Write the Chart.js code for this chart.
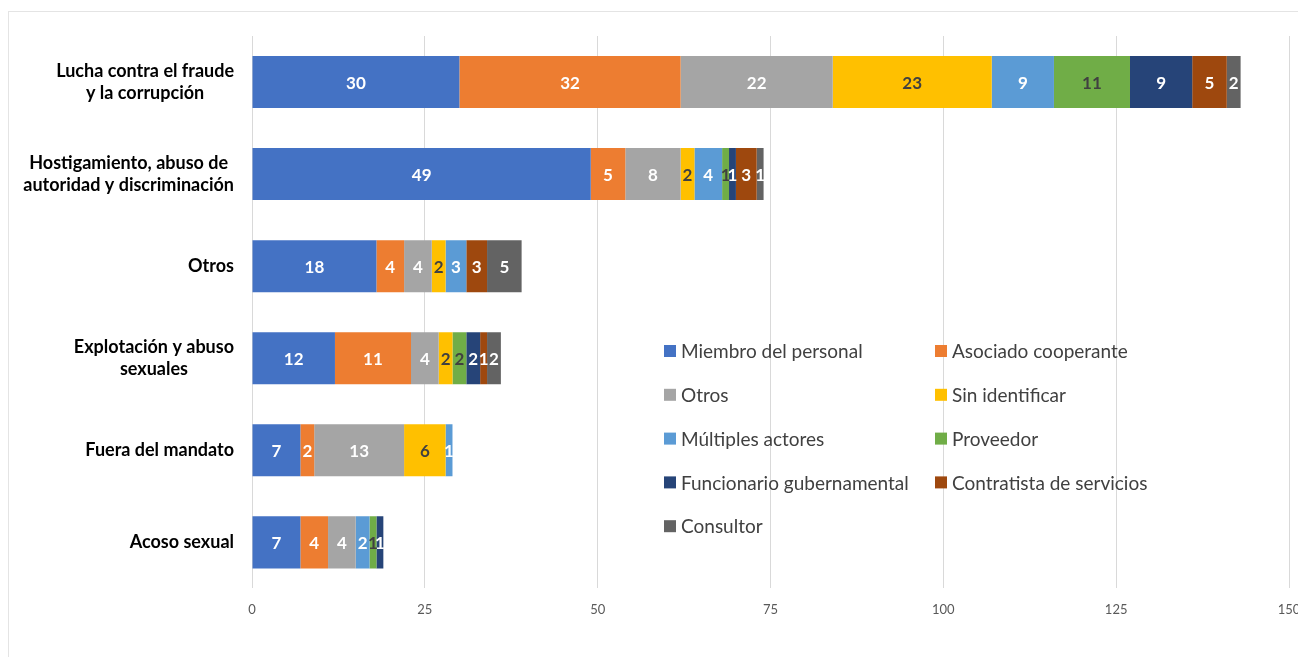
<!DOCTYPE html>
<html lang="es">
<head>
  <meta charset="UTF-8" />
  <title>Casos por categoría y tipo de sujeto</title>
  <script src="https://cdn.jsdelivr.net/npm/chart.js"></script>
  <style>
    html, body {
      margin: 0;
      padding: 0;
      background: #fff;
      overflow: hidden;
    }
    .frame {
      position: absolute;
      left: 8px;
      top: 11px;
      width: 1400px;
      height: 700px;
      border: 1px solid #e4e4e4;
    }
    .wrap {
      position: absolute;
      left: 0;
      top: 0;
      width: 1298px;
      height: 657px;
    }
  </style>
</head>
<body>
  <div class="frame"></div>
  <div class="wrap"><canvas id="chart"></canvas></div>

  <script>
    // categories (top to bottom), each label split into lines
    const categories = [
      ['Lucha contra el fraude', 'y la corrupción'],
      ['Hostigamiento, abuso de', 'autoridad y discriminación'],
      ['Otros'],
      ['Explotación y abuso', 'sexuales'],
      ['Fuera del mandato'],
      ['Acoso sexual']
    ];

    const seriesNames = [
      'Miembro del personal', 'Asociado cooperante', 'Otros', 'Sin identificar',
      'Múltiples actores', 'Proveedor', 'Funcionario gubernamental',
      'Contratista de servicios', 'Consultor'
    ];
    const seriesColors = [
      '#4472C4', '#ED7D31', '#A5A5A5', '#FFC000',
      '#5B9BD5', '#70AD47', '#264478', '#9E480E', '#636363'
    ];
    const darkLabelSeries = ['Sin identificar', 'Proveedor'];

    // values per series, in category order
    const miembro     = [30, 49, 18, 12, 7, 7];
    const asociado    = [32, 5, 4, 11, 2, 4];
    const otros       = [22, 8, 4, 4, 13, 4];
    const sinIdent    = [23, 2, 2, 2, 6, 0];
    const multiples   = [9, 4, 3, 0, 1, 2];
    const proveedor   = [11, 1, 0, 2, 0, 1];
    const funcionario = [9, 1, 0, 2, 0, 1];
    const contratista = [5, 3, 3, 1, 0, 0];
    const consultor   = [2, 1, 5, 2, 0, 0];
    const seriesValues = [miembro, asociado, otros, sinIdent, multiples,
      proveedor, funcionario, contratista, consultor];

    const xTicks = [0, 25, 50, 75, 100, 125, 150];

    const FONT = 'Lato, "Open Sans", sans-serif';

    // segment value labels
    const barLabels = {
      id: 'barLabels',
      afterDatasetsDraw(chart) {
        const ctx = chart.ctx;
        ctx.save();
        ctx.font = 'bold 17px ' + FONT;
        ctx.textAlign = 'center';
        ctx.textBaseline = 'middle';
        chart.data.datasets.forEach((ds, i) => {
          const meta = chart.getDatasetMeta(i);
          meta.data.forEach((bar, j) => {
            const v = ds.data[j];
            if (!v) return;
            ctx.fillStyle = darkLabelSeries.includes(ds.label) ? '#404040' : '#ffffff';
            ctx.fillText(String(v), (bar.x + bar.base) / 2, bar.y + 1);
          });
        });
        ctx.restore();
      }
    };

    // category labels: lines centred on each other, block right-aligned
    const catLabels = {
      id: 'catLabels',
      afterDraw(chart) {
        const ctx = chart.ctx;
        const yScale = chart.scales.y;
        const right = chart.chartArea.left - 18;
        const lineH = 22;
        ctx.save();
        ctx.font = 'bold 18px ' + FONT;
        ctx.fillStyle = '#000';
        ctx.textAlign = 'center';
        ctx.textBaseline = 'middle';
        categories.forEach((lines, i) => {
          const yc = yScale.getPixelForTick(i);
          const w = Math.max(...lines.map(l => ctx.measureText(l).width));
          const cx = right - w / 2;
          const y0 = yc - (lines.length - 1) * lineH / 2;
          lines.forEach((l, k) => ctx.fillText(l, cx, y0 + k * lineH));
        });
        ctx.restore();
      }
    };

    // legend placed inside the plot, two columns
    const innerLegend = {
      id: 'innerLegend',
      afterDraw(chart) {
        const ctx = chart.ctx;
        const colX = [664, 935];
        const top = 351;
        const rowH = 43.8;
        ctx.save();
        ctx.font = '19px ' + FONT;
        ctx.textBaseline = 'middle';
        ctx.textAlign = 'left';
        chart.data.datasets.forEach((ds, i) => {
          const x = colX[i % 2];
          const y = top + Math.floor(i / 2) * rowH;
          ctx.fillStyle = ds.backgroundColor;
          ctx.fillRect(x, y - 6, 12, 12);
          ctx.fillStyle = '#404040';
          ctx.fillText(ds.label, x + 17, y + 1);
        });
        ctx.restore();
      }
    };

    new Chart(document.getElementById('chart'), {
      type: 'bar',
      data: {
        labels: categories.map(c => c.join(' ')),
        datasets: seriesNames.map((name, i) => ({
          label: name,
          data: seriesValues[i],
          backgroundColor: seriesColors[i],
          borderWidth: 0,
          barPercentage: 0.565,
          categoryPercentage: 1.0
        }))
      },
      options: {
        indexAxis: 'y',
        responsive: true,
        maintainAspectRatio: false,
        animation: false,
        layout: {
          padding: { left: 252, right: 9, top: 36, bottom: 25 }
        },
        plugins: {
          legend: { display: false },
          tooltip: { enabled: false }
        },
        scales: {
          x: {
            stacked: true,
            min: 0,
            max: 150,
            afterBuildTicks(scale) {
              scale.ticks = xTicks.map(v => ({ value: v }));
            },
            afterFit(scale) {
              scale.paddingLeft = 0;
              scale.paddingRight = 0;
            },
            grid: { color: '#d9d9d9', drawTicks: false },
            border: { display: false },
            ticks: {
              padding: 14,
              color: '#595959',
              font: { family: FONT, size: 13 }
            }
          },
          y: {
            stacked: true,
            afterFit(scale) {
              scale.width = 0;
            },
            grid: { display: false },
            border: { display: false },
            ticks: { display: false }
          }
        }
      },
      plugins: [barLabels, catLabels, innerLegend]
    });
  </script>
</body>
</html>
